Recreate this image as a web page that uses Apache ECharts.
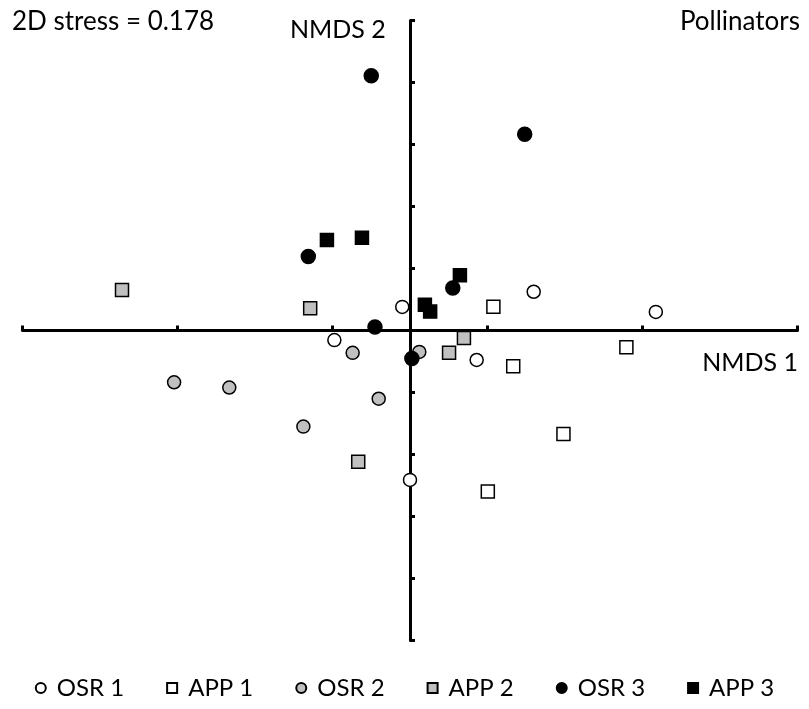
<!DOCTYPE html>
<html>
<head>
<meta charset="utf-8">
<script src="https://cdn.jsdelivr.net/npm/echarts@6/dist/echarts.min.js"></script>
<style>html,body{margin:0;padding:0;background:#fff;}#c{width:809px;height:709px;}</style>
</head>
<body>
<div id="c"></div>
<script>
// NMDS coordinates [NMDS1, NMDS2]
var osr1 = [[-0.025,0.076],[-0.244,-0.031],[0.215,-0.095],[0.399,0.125],[0.793,0.060],[0.000,-0.482]];
var app1 = [[0.269,0.077],[0.333,-0.115],[0.698,-0.054],[0.495,-0.334],[0.251,-0.519]];
var osr2 = [[-0.761,-0.167],[-0.583,-0.184],[-0.344,-0.310],[-0.101,-0.220],[-0.185,-0.072],[0.030,-0.069]];
var app2 = [[-0.929,0.131],[-0.322,0.072],[0.126,-0.072],[0.174,-0.024],[-0.167,-0.423]];
var osr3 = [[-0.125,0.822],[0.370,0.633],[-0.328,0.239],[0.138,0.137],[-0.113,0.011],[0.006,-0.090]];
var app3 = [[-0.268,0.292],[-0.155,0.299],[0.161,0.178],[0.048,0.083],[0.065,0.061]];
var seriesNames = ['OSR 1','APP 1','OSR 2','APP 2','OSR 3','APP 3'];
var xTicks = [-1.25,-0.75,-0.25,0.25,0.75,1.25];
var yTicks = [-1,-0.8,-0.6,-0.4,-0.2,0,0.2,0.4,0.6,0.8,1];
var stressText = '2D stress = 0.178';
var panelTitle = 'Pollinators';
var xName = 'NMDS 1', yName = 'NMDS 2';

var FONT = 'Lato';
var chart = echarts.init(document.getElementById('c'));
function mk(name, data, symbol, fill, size) {
  return {
    name: name, type: 'scatter', data: data, symbol: symbol, symbolSize: size,
    itemStyle: {color: fill, borderColor: '#000', borderWidth: 1.5, opacity: 1},
    emphasis: {disabled: true}
  };
}
var axisCommon = {
  type: 'value',
  axisLine: {onZero: true, lineStyle: {color: '#000', width: 3}},
  axisTick: {inside: true, length: 5, lineStyle: {color: '#000', width: 3}},
  axisLabel: {show: false},
  splitLine: {show: false}
};
chart.setOption({
  animation: false,
  textStyle: {fontFamily: FONT},
  grid: {left: 22.5, top: 20.5, width: 775, height: 620, containLabel: false},
  xAxis: Object.assign({}, axisCommon, {min: -1.25, max: 1.25,
    axisTick: Object.assign({}, axisCommon.axisTick, {customValues: xTicks})}),
  yAxis: Object.assign({}, axisCommon, {min: -1, max: 1, interval: 0.2,
    axisTick: Object.assign({}, axisCommon.axisTick, {customValues: yTicks})}),
  legend: {
    bottom: 4, left: 'center', itemWidth: 10, itemHeight: 10, itemGap: 42,
    textStyle: {fontFamily: FONT, fontSize: 24, color: '#000', padding: [0, 0, 0, 6]},
    data: [
      {name: 'OSR 1', icon: 'circle'}, {name: 'APP 1', icon: 'rect'},
      {name: 'OSR 2', icon: 'circle'}, {name: 'APP 2', icon: 'rect'},
      {name: 'OSR 3', icon: 'circle'}, {name: 'APP 3', icon: 'rect'}
    ]
  },
  graphic: [
    {type: 'text', left: 12, top: 9, style: {text: stressText, font: '26px ' + FONT, fill: '#000'}},
    {type: 'text', right: 9, top: 9, style: {text: panelTitle, font: '26px ' + FONT, fill: '#000'}},
    {type: 'text', left: 290, top: 17, style: {text: yName, font: '25px ' + FONT, fill: '#000'}},
    {type: 'text', right: 11, top: 350, style: {text: xName, font: '25px ' + FONT, fill: '#000'}}
  ],
  series: [
    mk(seriesNames[0], osr1, 'circle', '#ffffff', 13),
    mk(seriesNames[1], app1, 'rect', '#ffffff', 13),
    mk(seriesNames[2], osr2, 'circle', '#c0c0c0', 13),
    mk(seriesNames[3], app2, 'rect', '#c0c0c0', 13),
    mk(seriesNames[4], osr3, 'circle', '#000000', 14),
    mk(seriesNames[5], app3, 'rect', '#000000', 13)
  ]
});
</script>
</body>
</html>
